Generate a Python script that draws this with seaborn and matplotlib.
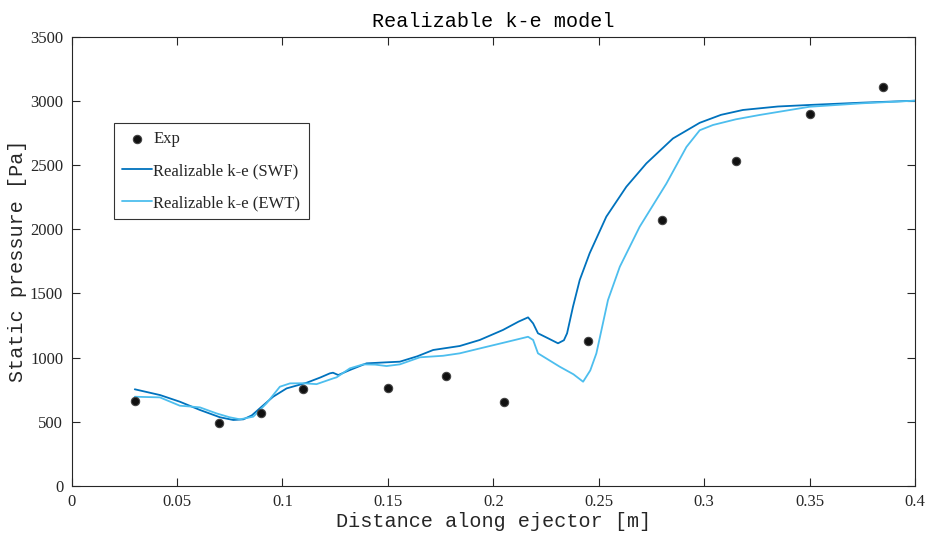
import matplotlib
matplotlib.use("Agg")
import matplotlib.pyplot as plt
import seaborn as sns
import pandas as pd

# Experimental wall static pressure
exp_x = [0.03, 0.07, 0.09, 0.11, 0.15, 0.1775, 0.205, 0.245, 0.28, 0.315, 0.35, 0.385]
exp_p = [660, 490, 565, 755, 760, 860, 655, 1130, 2075, 2530, 2895, 3105]

# Realizable k-e with standard wall functions
swf_x = [0.03, 0.042, 0.0514, 0.0609, 0.0704, 0.0767, 0.0815, 0.0855, 0.0893, 0.0956,
         0.102, 0.1115, 0.118, 0.1225, 0.124, 0.1265, 0.132, 0.1399, 0.1494, 0.1557,
         0.1640, 0.1715, 0.1841, 0.1936, 0.2046, 0.2120, 0.2165, 0.2189, 0.2212, 0.2260,
         0.2307, 0.2335, 0.2350, 0.2378, 0.2410, 0.2457, 0.2536, 0.2631, 0.2726, 0.2852,
         0.2979, 0.3080, 0.3184, 0.3350, 0.3500, 0.3750, 0.4]
swf_p = [753, 708, 656, 592, 535, 514, 519, 550, 605, 695,
         760, 804, 845, 877, 882, 864, 903, 955, 963, 968,
         1010, 1059, 1090, 1137, 1215, 1280, 1313, 1266, 1189, 1150,
         1111, 1135, 1189, 1396, 1604, 1812, 2097, 2330, 2512, 2706,
         2828, 2890, 2928, 2955, 2967, 2985, 3000]

# Realizable k-e with enhanced wall treatment
ewt_x = [0.03, 0.0419, 0.0514, 0.0570, 0.0609, 0.0688, 0.0750, 0.0799, 0.0862, 0.0925,
         0.0988, 0.1036, 0.1100, 0.1162, 0.1241, 0.1257, 0.132, 0.1383, 0.1440, 0.1494,
         0.1557, 0.1652, 0.1762, 0.1841, 0.1936, 0.2060, 0.2165, 0.2189, 0.2212, 0.2315,
         0.2380, 0.2426, 0.2460, 0.2489, 0.2544, 0.2600, 0.2694, 0.2821, 0.2916, 0.2979,
         0.3042, 0.3150, 0.3263, 0.3500, 0.3750, 0.4]
ewt_p = [695, 690, 625, 618, 612, 565, 535, 519, 540, 644,
         773, 799, 800, 793, 838, 846, 916, 947, 945, 934,
         947, 1002, 1014, 1033, 1071, 1120, 1162, 1137, 1033, 929,
         870, 812, 900, 1033, 1448, 1707, 2018, 2355, 2640, 2770,
         2811, 2855, 2889, 2953, 2980, 3000]

xticks = [0, 0.05, 0.1, 0.15, 0.2, 0.25, 0.3, 0.35, 0.4]
xtick_labels = ["0", "0.05", "0.1", "0.15", "0.2", "0.25", "0.3", "0.35", "0.4"]
yticks = [0, 500, 1000, 1500, 2000, 2500, 3000, 3500]

sns.set_theme(style="ticks")
plt.rcParams["font.family"] = ["Liberation Serif", "DejaVu Serif"]

fig = plt.figure(figsize=(9.3, 5.36), dpi=100)
ax = fig.add_axes([0.0769, 0.0933, 0.9070, 0.8386])

swf = pd.DataFrame({"x": swf_x, "p": swf_p})
ewt = pd.DataFrame({"x": ewt_x, "p": ewt_p})
exp = pd.DataFrame({"x": exp_x, "p": exp_p})

sns.scatterplot(data=exp, x="x", y="p", ax=ax, color="#111111", edgecolor="#444444",
                s=36, linewidth=0.8, label="Exp", zorder=3)
sns.lineplot(data=swf, x="x", y="p", ax=ax, sort=False, estimator=None,
             color="#0072BD", linewidth=1.3, label="Realizable k-e (SWF)")
sns.lineplot(data=ewt, x="x", y="p", ax=ax, sort=False, estimator=None,
             color="#4DBEEE", linewidth=1.3, label="Realizable k-e (EWT)")

ax.set_xlim(0, 0.4)
ax.set_ylim(0, 3500)
ax.set_xticks(xticks)
ax.set_xticklabels(xtick_labels)
ax.set_yticks(yticks)
ax.tick_params(direction="in", length=6, width=0.8, top=True, right=True,
               labelsize=12, colors="#262626", pad=6)
for side in ["left", "right", "top", "bottom"]:
    ax.spines[side].set_visible(True)
    ax.spines[side].set_linewidth(0.8)
    ax.spines[side].set_color("#262626")

mono = ["Liberation Mono", "DejaVu Sans Mono"]
ax.set_title("Realizable k-e model", family=mono, fontsize=14.5, color="black", pad=7)
ax.set_xlabel("Distance along ejector [m]", family=mono, fontsize=14.5, labelpad=1)
ax.set_ylabel("Static pressure [Pa]", family=mono, fontsize=14.5, labelpad=2)

leg = ax.legend(loc="upper left", bbox_to_anchor=(0.0504, 0.8076), fontsize=12,
                frameon=True, fancybox=False, edgecolor="black", handlelength=1.8,
                handletextpad=0.05, labelspacing=0.95, borderpad=0.5, borderaxespad=0)
leg.get_frame().set_linewidth(0.8)

fig.savefig("out.png", dpi=100)
